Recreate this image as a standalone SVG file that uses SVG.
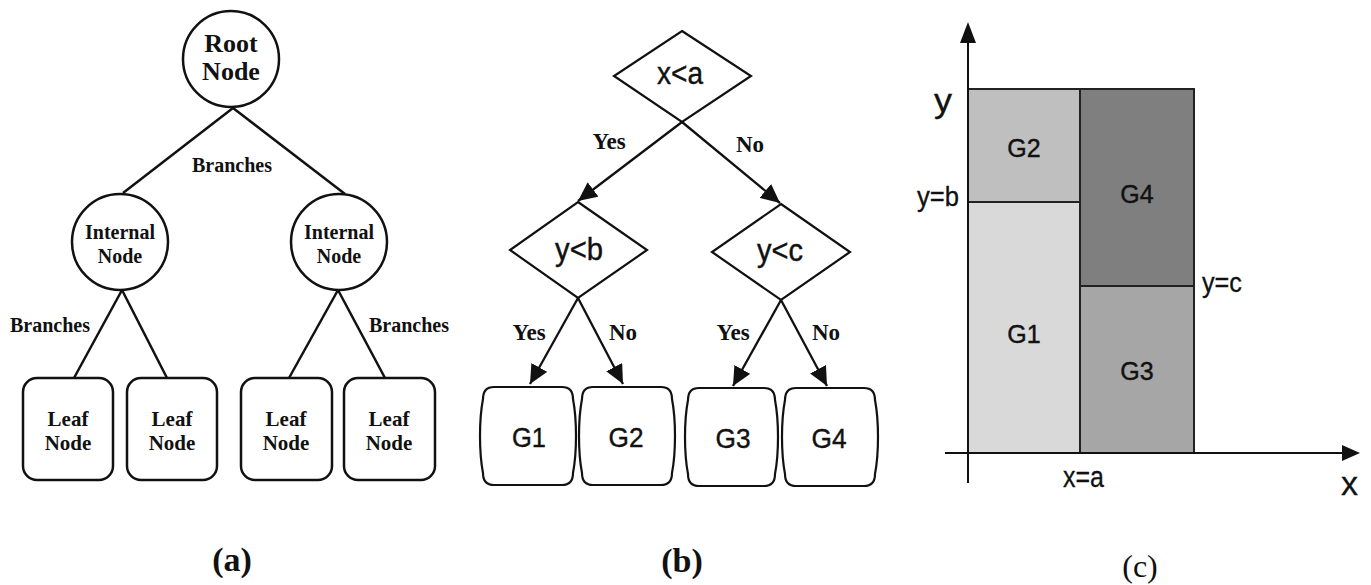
<svg xmlns="http://www.w3.org/2000/svg" width="1371" height="585" viewBox="0 0 1371 585">
<style>
.bg{fill:#ffffff}
.nd{fill:#ffffff;stroke:#111;stroke-width:2.5}
.dm{fill:#ffffff;stroke:#111;stroke-width:2.2}
.ln{stroke:#111;stroke-width:2.5;fill:none}
.ar{stroke:#111;stroke-width:2.3;fill:none}
.ser{font-family:"Liberation Serif","Times New Roman",serif;font-weight:bold;fill:#111;text-anchor:middle}
.san{font-family:"Liberation Sans",Arial,sans-serif;fill:#111;stroke:#111;stroke-width:0.4;text-anchor:middle}
.sanl{font-family:"Liberation Sans",Arial,sans-serif;fill:#111;stroke:#111;stroke-width:0.3}
.reg{stroke:#222;stroke-width:2}
.cap{font-family:"Liberation Serif","Times New Roman",serif;fill:#111;text-anchor:middle}
</style>
<defs>
<marker id="ah" markerUnits="userSpaceOnUse" markerWidth="20" markerHeight="18" refX="19" refY="9" orient="auto">
<path d="M0,0 L19,9 L0,18 Z" fill="#111"/>
</marker>
</defs>
<rect class="bg" x="0" y="0" width="1371" height="585"/>

<!-- Panel (a) connectors -->
<g id="connectors-a">
<line class="ln" x1="233" y1="108" x2="123" y2="193"/>
<line class="ln" x1="233" y1="108" x2="345" y2="194"/>
<line class="ln" x1="122" y1="290" x2="74" y2="378"/>
<line class="ln" x1="122" y1="290" x2="167" y2="378"/>
<line class="ln" x1="338" y1="290" x2="289" y2="378"/>
<line class="ln" x1="338" y1="290" x2="385" y2="378"/>
<text class="ser" x="232" y="172" font-size="20">Branches</text>
<text class="ser" x="50" y="332" font-size="20">Branches</text>
<text class="ser" x="409" y="332" font-size="20">Branches</text>
</g>

<g id="root">
<circle class="nd" cx="231" cy="59" r="48"/>
<text class="ser" x="231" y="52" font-size="26">Root</text>
<text class="ser" x="231" y="80" font-size="26">Node</text>
</g>
<g id="internal-left">
<circle class="nd" cx="120" cy="242" r="48"/>
<text class="ser" x="120" y="239" font-size="20">Internal</text>
<text class="ser" x="120" y="263" font-size="20">Node</text>
</g>
<g id="internal-right">
<circle class="nd" cx="339" cy="242" r="48"/>
<text class="ser" x="339" y="239" font-size="20">Internal</text>
<text class="ser" x="339" y="263" font-size="20">Node</text>
</g>
<g id="leaf-1">
<rect class="nd" x="23" y="378" width="90" height="102" rx="14"/>
<text class="ser" x="68" y="426" font-size="21">Leaf</text>
<text class="ser" x="68" y="450" font-size="21">Node</text>
</g>
<g id="leaf-2">
<rect class="nd" x="127" y="378" width="90" height="102" rx="14"/>
<text class="ser" x="172" y="426" font-size="21">Leaf</text>
<text class="ser" x="172" y="450" font-size="21">Node</text>
</g>
<g id="leaf-3">
<rect class="nd" x="241" y="378" width="91" height="102" rx="14"/>
<text class="ser" x="286" y="426" font-size="21">Leaf</text>
<text class="ser" x="286" y="450" font-size="21">Node</text>
</g>
<g id="leaf-4">
<rect class="nd" x="344" y="378" width="91" height="102" rx="14"/>
<text class="ser" x="389" y="426" font-size="21">Leaf</text>
<text class="ser" x="389" y="450" font-size="21">Node</text>
</g>
<text class="ser" x="232" y="571" font-size="34">(a)</text>

<!-- Panel (b) connectors -->
<g id="connectors-b">
<line class="ar" x1="682" y1="122" x2="578" y2="201" marker-end="url(#ah)"/>
<line class="ar" x1="682" y1="122" x2="780" y2="203" marker-end="url(#ah)"/>
<line class="ar" x1="578" y1="298" x2="530" y2="384" marker-end="url(#ah)"/>
<line class="ar" x1="578" y1="298" x2="623" y2="384" marker-end="url(#ah)"/>
<line class="ar" x1="781" y1="300" x2="733" y2="386" marker-end="url(#ah)"/>
<line class="ar" x1="781" y1="300" x2="827" y2="386" marker-end="url(#ah)"/>
<text class="ser" x="609" y="149" font-size="23">Yes</text>
<text class="ser" x="750" y="152" font-size="23">No</text>
<text class="ser" x="529" y="340" font-size="23">Yes</text>
<text class="ser" x="623" y="340" font-size="23">No</text>
<text class="ser" x="733" y="340" font-size="23">Yes</text>
<text class="ser" x="826" y="340" font-size="23">No</text>
</g>

<g id="dec-xa">
<polygon class="dm" points="682,31 751,76 682,122 614,76"/>
<text class="san" x="680" y="84" font-size="31" textLength="46" lengthAdjust="spacingAndGlyphs">x&lt;a</text>
</g>
<g id="dec-yb">
<polygon class="dm" points="578,202 647,250 578,298 510,250"/>
<text class="san" x="579" y="260" font-size="31" textLength="48" lengthAdjust="spacingAndGlyphs">y&lt;b</text>
</g>
<g id="dec-yc">
<polygon class="dm" points="781,204 850,252 781,300 712,252"/>
<text class="san" x="780" y="261" font-size="31" textLength="46" lengthAdjust="spacingAndGlyphs">y&lt;c</text>
</g>
<g id="g1-leaf">
<path class="dm" d="M494,387 H562 Q573,387 573,399 C577,420 577,452 573,473 Q573,485 562,485 H494 Q483,485 483,473 C479,452 479,420 483,399 Q483,387 494,387 Z"/>
<text class="san" x="529" y="447" font-size="28" textLength="34" lengthAdjust="spacingAndGlyphs">G1</text>
</g>
<g id="g2-leaf">
<path class="dm" d="M593,387 H661 Q672,387 672,399 C676,420 676,452 672,473 Q672,485 661,485 H593 Q582,485 582,473 C578,452 578,420 582,399 Q582,387 593,387 Z"/>
<text class="san" x="626" y="447" font-size="28" textLength="35" lengthAdjust="spacingAndGlyphs">G2</text>
</g>
<g id="g3-leaf">
<path class="dm" d="M699,388 H764 Q775,388 775,400 C779,421 779,453 775,474 Q775,486 764,486 H699 Q688,486 688,474 C684,453 684,421 688,400 Q688,388 699,388 Z"/>
<text class="san" x="733" y="448" font-size="28" textLength="35" lengthAdjust="spacingAndGlyphs">G3</text>
</g>
<g id="g4-leaf">
<path class="dm" d="M796,388 H864 Q875,388 875,400 C879,421 879,453 875,474 Q875,486 864,486 H796 Q785,486 785,474 C781,453 781,421 785,400 Q785,388 796,388 Z"/>
<text class="san" x="829" y="448" font-size="28" textLength="35" lengthAdjust="spacingAndGlyphs">G4</text>
</g>
<text class="ser" x="682" y="572" font-size="34">(b)</text>

<!-- Panel (c): partition plot -->
<g id="plot-c">
<rect class="reg" x="968" y="89" width="112" height="113" fill="#bfbfbf"/>
<rect class="reg" x="968" y="202" width="112" height="251" fill="#d9d9d9"/>
<rect class="reg" x="1080" y="89" width="114" height="197" fill="#7f7f7f"/>
<rect class="reg" x="1080" y="286" width="114" height="167" fill="#a6a6a6"/>
<line x1="968" y1="40" x2="968" y2="483" stroke="#111" stroke-width="2"/>
<line x1="945" y1="453" x2="1344" y2="453" stroke="#111" stroke-width="2"/>
<polygon points="968,22 960,43 976,43" fill="#111"/>
<polygon points="1360,453 1342,445 1342,461" fill="#111"/>
<text class="san" x="1024" y="157" font-size="25">G2</text>
<text class="san" x="1137" y="203" font-size="25">G4</text>
<text class="san" x="1024" y="343" font-size="25">G1</text>
<text class="san" x="1137" y="380" font-size="25">G3</text>
<text class="sanl" x="934" y="112" font-size="34" textLength="18" lengthAdjust="spacingAndGlyphs">y</text>
<text class="sanl" x="917" y="206" font-size="28" textLength="42" lengthAdjust="spacingAndGlyphs">y=b</text>
<text class="sanl" x="1202" y="292" font-size="28" textLength="40" lengthAdjust="spacingAndGlyphs">y=c</text>
<text class="sanl" x="1063" y="487" font-size="30" textLength="41" lengthAdjust="spacingAndGlyphs">x=a</text>
<text class="sanl" x="1341" y="495" font-size="34" textLength="17" lengthAdjust="spacingAndGlyphs">x</text>
</g>
<text class="cap" x="1140" y="577" font-size="32">(c)</text>
</svg>
